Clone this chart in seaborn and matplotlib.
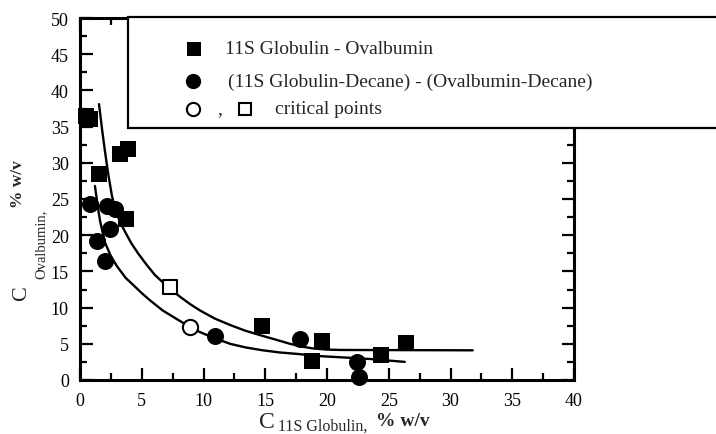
import matplotlib
matplotlib.use("Agg")
import matplotlib.pyplot as plt
import seaborn as sns
from matplotlib.lines import Line2D
from matplotlib.patches import Rectangle
from matplotlib.ticker import MultipleLocator

# 11S Globulin - Ovalbumin (filled squares)
sq_x = [0.5, 0.8, 1.5, 3.2, 3.9, 3.7, 14.7, 18.8, 19.6, 24.4, 26.4]
sq_y = [36.4, 36.0, 28.5, 31.2, 31.9, 22.2, 7.4, 2.6, 5.4, 3.5, 5.1]

# (11S Globulin-Decane) - (Ovalbumin-Decane) (filled circles)
ci_x = [0.8, 2.2, 2.8, 2.4, 1.4, 2.0, 10.9, 17.8, 22.4, 22.6]
ci_y = [24.3, 24.0, 23.6, 20.9, 19.2, 16.4, 6.1, 5.7, 2.5, 0.4]

# critical points
crit_circle_x = [8.9]
crit_circle_y = [7.3]
crit_square_x = [7.3]
crit_square_y = [12.8]

# binodal curves
up_x = [1.54, 1.78, 2.02, 2.30, 2.59, 2.90, 3.25, 3.64, 4.15, 4.70, 5.40, 6.07, 6.70,
        7.29, 8.10, 8.90, 9.72, 10.9, 12.15, 13.4, 14.57, 15.8, 17.0, 18.0, 18.9,
        20.0, 21.1, 31.8]
up_y = [38.1, 34.7, 31.6, 28.3, 25.4, 23.3, 21.8, 20.5, 18.9, 17.5, 15.9, 14.5, 13.5,
        12.6, 11.5, 10.5, 9.6, 8.5, 7.6, 6.8, 6.2, 5.6, 5.0, 4.6, 4.35,
        4.2, 4.15, 4.1]
lo_x = [1.21, 1.42, 1.62, 2.02, 2.50, 3.00, 3.70, 4.45, 5.00, 5.67, 6.70, 7.85, 8.74,
        9.47, 10.7, 12.15, 13.4, 14.8, 16.2, 17.6, 19.4, 21.5, 23.5, 26.3]
lo_y = [26.8, 24.2, 22.0, 19.0, 17.1, 15.7, 14.1, 12.9, 12.0, 11.0, 9.6, 8.4, 7.5,
        6.8, 5.9, 5.0, 4.5, 4.1, 3.8, 3.6, 3.3, 3.1, 2.9, 2.5]

x_ticks = [0, 5, 10, 15, 20, 25, 30, 35, 40]
y_ticks = [0, 5, 10, 15, 20, 25, 30, 35, 40, 45, 50]

sns.set_theme(style="ticks")
plt.rcParams["font.family"] = ["Liberation Serif", "DejaVu Serif"]

W, H = 716, 435
fig = plt.figure(figsize=(W / 100, H / 100), dpi=100)
ax = fig.add_axes([80 / W, 1 - 381 / H, (574 - 80) / W, (381 - 19) / H])

def fx(px):
    return px / W

def fy(py):
    return 1 - py / H

sns.lineplot(x=up_x, y=up_y, sort=False, estimator=None, color="black", lw=1.7, ax=ax)
sns.lineplot(x=lo_x, y=lo_y, sort=False, estimator=None, color="black", lw=1.7, ax=ax)

sns.scatterplot(x=sq_x, y=sq_y, marker="s", s=120, color="black", edgecolor="black",
                linewidth=0, ax=ax, clip_on=False, zorder=3)
sns.scatterplot(x=ci_x, y=ci_y, marker="o", s=150, color="black", edgecolor="black",
                linewidth=0, ax=ax, clip_on=False, zorder=3)
sns.scatterplot(x=crit_square_x, y=crit_square_y, marker="s", s=110, color="white",
                edgecolor="black", linewidth=1.5, ax=ax, zorder=4)
sns.scatterplot(x=crit_circle_x, y=crit_circle_y, marker="o", s=120, color="white",
                edgecolor="black", linewidth=1.5, ax=ax, zorder=4)

ax.set_xlim(0, 40)
ax.set_ylim(0, 50)
ax.set_xticks(x_ticks)
ax.set_yticks(y_ticks)
ax.set_xticklabels([str(v) for v in x_ticks])
ax.set_yticklabels([str(v) for v in y_ticks])
ax.xaxis.set_minor_locator(MultipleLocator(2.5))
ax.yaxis.set_minor_locator(MultipleLocator(2.5))
ax.tick_params(which="both", direction="in", top=True, right=True, width=1.6,
               color="black", labelsize=13, labelcolor="black")
ax.tick_params(which="major", length=9)
ax.tick_params(which="minor", length=5)
ax.tick_params(axis="x", which="both", pad=9)
ax.tick_params(axis="y", which="both", pad=8)
for sp in ax.spines.values():
    sp.set_linewidth(2.2)
    sp.set_color("black")
ax.set_xlabel("")
ax.set_ylabel("")

# x-axis title: C with subscript
fig.text(fx(259), fy(428), "C", fontsize=17, ha="left", va="baseline")
fig.text(fx(278), fy(431), "11S Globulin,", fontsize=11.5, ha="left", va="baseline")
fig.text(fx(376), fy(426), "% w/v", fontsize=14, fontweight="bold", ha="left", va="baseline")

# y-axis title, rotated
fig.text(fx(26), fy(301), "C", fontsize=16, rotation=90, rotation_mode="anchor",
         ha="left", va="baseline")
fig.text(fx(45), fy(279), "Ovalbumin,", fontsize=10.5, rotation=90, rotation_mode="anchor",
         ha="left", va="baseline")
fig.text(fx(22), fy(208), "% w/v", fontsize=12.5, fontweight="bold", rotation=90,
         rotation_mode="anchor", ha="left", va="baseline")

# legend box running off the right edge
fig.patches.append(Rectangle((fx(128), fy(129)), fx(740) - fx(128), fy(18) - fy(129),
                             transform=fig.transFigure, facecolor="white",
                             edgecolor="black", linewidth=1.6, zorder=5))

def legend_marker(px, py, marker, size, face, lw=0.0):
    fig.lines.append(Line2D([fx(px)], [fy(py)], marker=marker, markersize=size,
                            markerfacecolor=face, markeredgecolor="black",
                            markeredgewidth=lw, linestyle="none",
                            transform=fig.transFigure, zorder=6))

legend_marker(194, 50, "s", 9.5, "black")
legend_marker(193, 82, "o", 11, "black")
legend_marker(193, 110, "o", 9.5, "white", 1.5)
legend_marker(245, 110, "s", 8.5, "white", 1.5)

fig.text(fx(225), fy(50), "11S Globulin - Ovalbumin", fontsize=14, ha="left",
         va="center", zorder=6)
fig.text(fx(228), fy(82), "(11S Globulin-Decane) - (Ovalbumin-Decane)", fontsize=14,
         ha="left", va="center", zorder=6)
fig.text(fx(217), fy(110), ",", fontsize=14, ha="left", va="center", zorder=6)
fig.text(fx(275), fy(110), "critical points", fontsize=14, ha="left", va="center", zorder=6)

fig.savefig("out.png", dpi=100)
